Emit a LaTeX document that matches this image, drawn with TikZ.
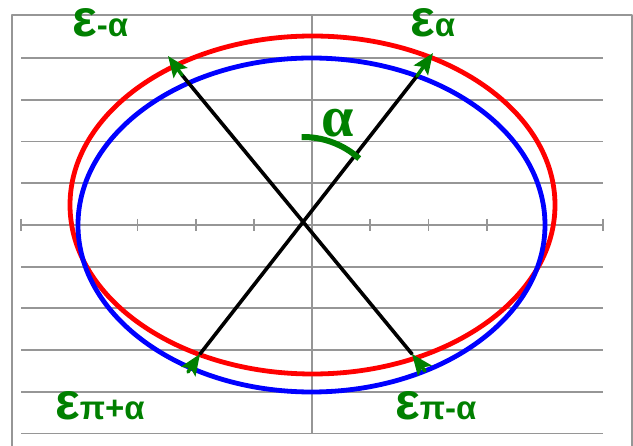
\documentclass[tikz,border=0pt]{standalone}
\usepackage{fontspec}
\setmainfont{Liberation Sans}
\newfontfamily\anglefont{Liberation Serif}
\usetikzlibrary{arrows.meta}
\definecolor{gridgray}{RGB}{150,150,150}
\definecolor{epsgreen}{RGB}{0,128,0}
\newcommand\epslab[1]{{\fontsize{52}{52}\selectfont ε}{\fontsize{33}{33}\selectfont #1}}
\begin{document}
\begin{tikzpicture}[x=1pt,y=-1pt,line cap=round,line join=round,
  gridline/.style={gridgray,line width=1.8pt,line cap=butt},
  orbit/.style={line width=4.8pt},
  radius line/.style={black,line width=3.6pt},
  shift vec/.style={epsgreen,line width=3.6pt,-{Stealth[length=21pt,width=17pt,inset=4pt]}},
  eps label/.style={text=epsgreen,font=\bfseries,anchor=base west,inner sep=0pt,
    text height=28pt,text depth=0pt}]
\useasboundingbox (0,0) rectangle (633,446);
\clip (0,0) rectangle (633,446);
% frame and grid
\draw [gridline] (12,450) -- (12,15) -- (632,15) -- (632,450);
\foreach \k in {-4,...,5}
  \draw [gridline] (21,225+41.7*\k) -- (603,225+41.7*\k);
\draw [gridline] (312,15) -- (312,433);
\foreach \k in {0,...,10}
  \draw [gridline] (21+58.2*\k,219) -- (21+58.2*\k,231);
% the two ellipses
\draw [orbit,red] (312.5,205) ellipse [x radius=242.5, y radius=169];
\draw [orbit,blue] (311.5,225) ellipse [x radius=233.5, y radius=167];
% points on the ellipses
\coordinate (O) at (303,221);
\coordinate (redA) at (433,53);
\coordinate (blueA) at (417,76);
\coordinate (redA') at (200,354);
\coordinate (blueA') at (188,372);
\coordinate (redB) at (168,56);
\coordinate (blueB) at (182,75);
\coordinate (redB') at (412,354);
\coordinate (blueB') at (425,371);
% radius lines
\draw [radius line] (redA') -- (blueA);
\draw [radius line] (redB') -- (blueB);
\draw [shift vec] (blueA) -- (redA);
\draw [shift vec] (blueB) -- (redB);
\draw [shift vec] (blueA') -- (redA');
\draw [shift vec] (blueB') -- (redB');
% angle
\draw [epsgreen,line width=6pt,line cap=butt] (O) ++(-91:84) arc [start angle=-91, end angle=-48, radius=84];
\node [eps label,font=\anglefont\bfseries\fontsize{58}{58}\selectfont] (alpha) at (321,137) {α};
% labels
\node [eps label] (epsminus) at (72,37) {\epslab{-α}};
\node [eps label] (epsplus) at (410,37) {\epslab{α}};
\node [eps label] (epspiplus) at (55,420) {\epslab{π+α}};
\node [eps label] (epspiminus) at (395,420) {\epslab{π-α}};
\end{tikzpicture}
\end{document}
